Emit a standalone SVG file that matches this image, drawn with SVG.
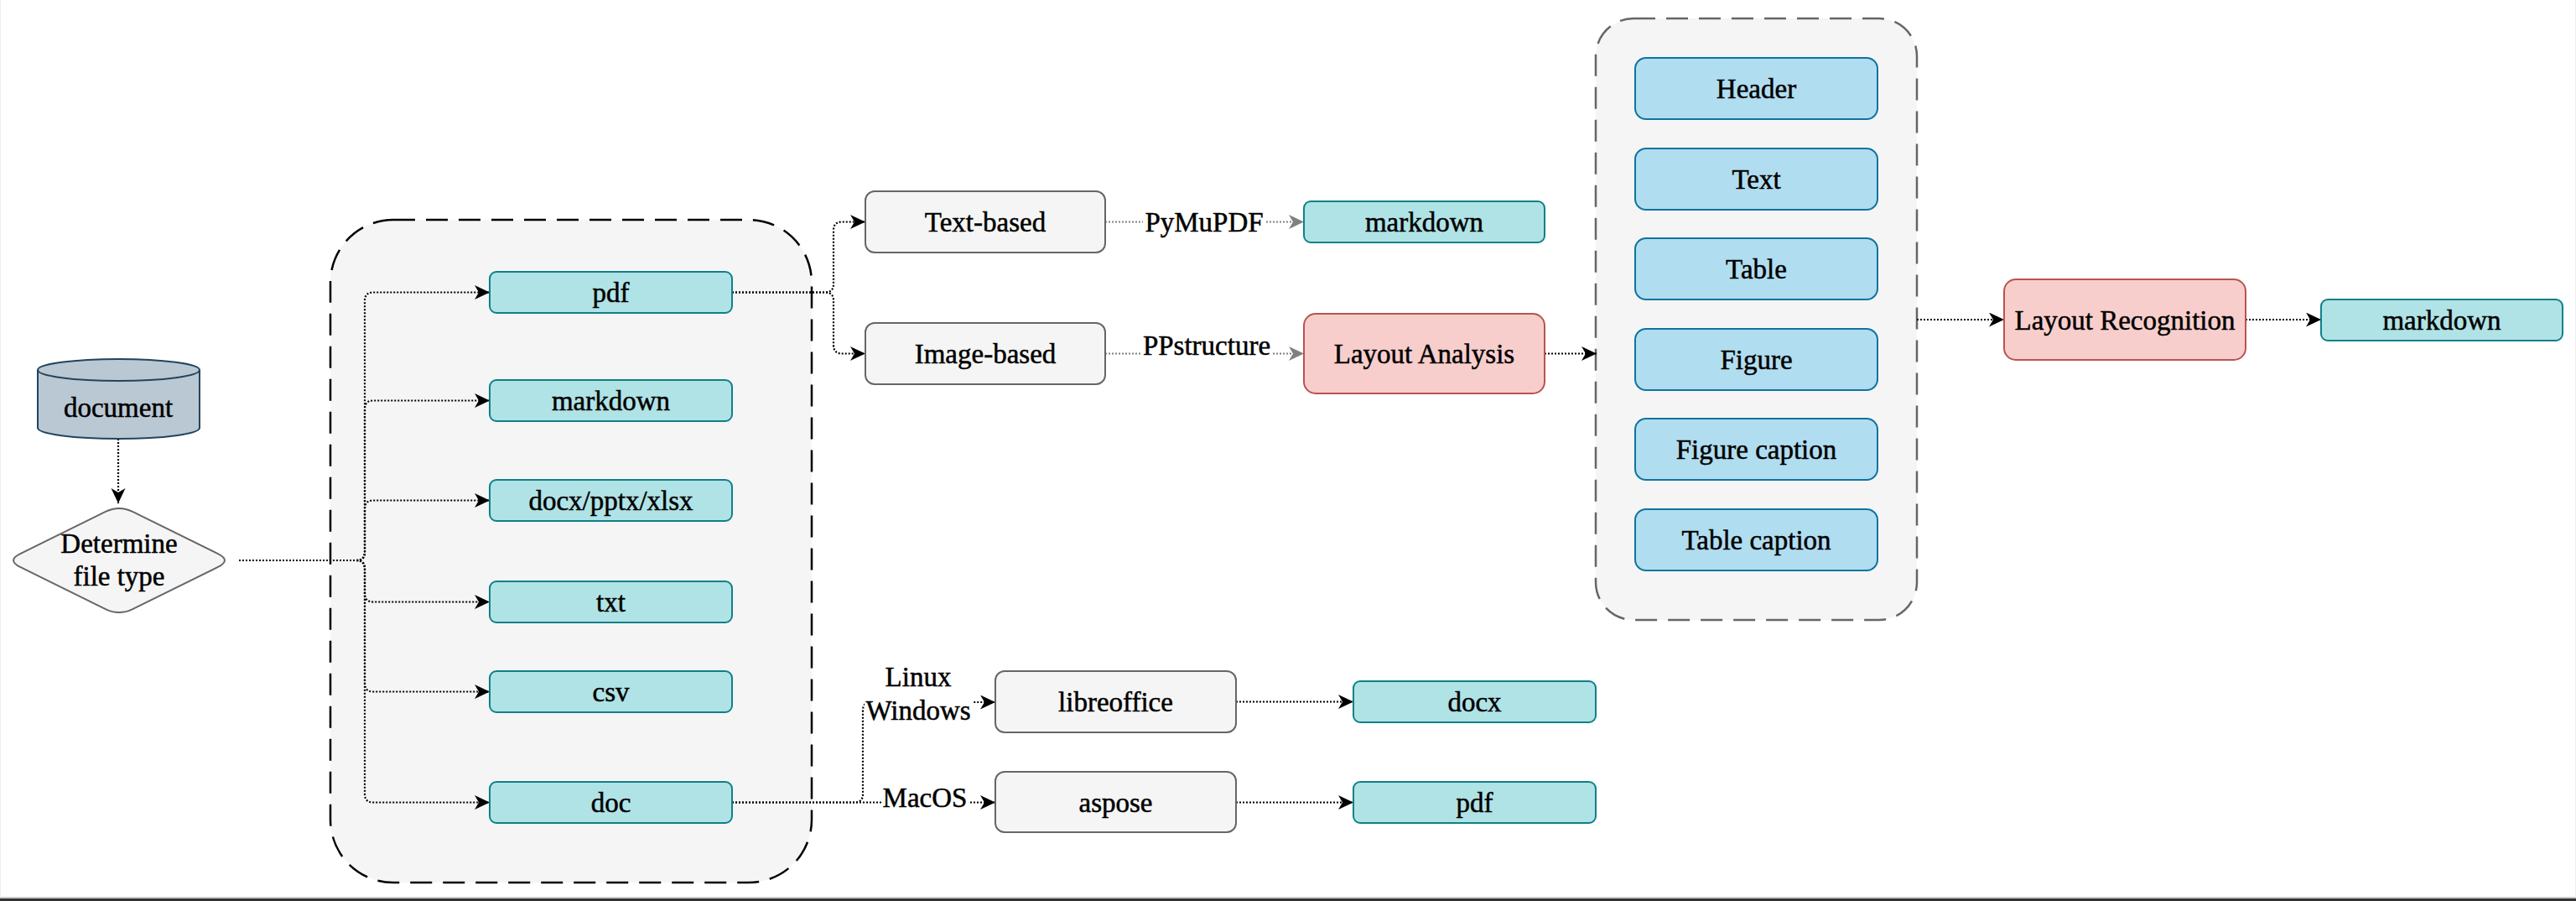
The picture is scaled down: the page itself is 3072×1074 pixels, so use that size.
<svg xmlns="http://www.w3.org/2000/svg" width="3072" height="1074" viewBox="0 0 3072 1074" font-family="'Liberation Serif', 'DejaVu Serif', serif">
<style>
  text { font-family: 'Liberation Serif', 'Times New Roman', 'DejaVu Serif', serif; font-size: 33px; fill: #000; stroke: #000; stroke-width: 0.5; text-anchor: middle; }
  .teal { fill: #b0e3e6; stroke: #0e8088; stroke-width: 2; }
  .gray { fill: #f5f5f5; stroke: #666666; stroke-width: 2; }
  .red { fill: #f8cecc; stroke: #b85450; stroke-width: 2; }
  .blue { fill: #b1ddf0; stroke: #10739e; stroke-width: 2; }
  .cont1 { fill: #f5f5f5; stroke: #000; stroke-width: 2.5; stroke-dasharray: 26 13; }
  .cont2 { fill: #f5f5f5; stroke: #666666; stroke-width: 2.5; stroke-dasharray: 26 13; }
  .edge { fill: none; stroke: #000; stroke-width: 2.2; stroke-dasharray: 2 2; }
  .edgeg { fill: none; stroke: #808080; stroke-width: 2.2; stroke-dasharray: 2 2; }
  .lbl { fill: #ffffff; }
</style>
<defs>
  <marker id="arr" markerWidth="20" markerHeight="20" refX="18" refY="8.5" orient="auto" markerUnits="userSpaceOnUse">
    <path d="M0,0 L18,8.5 L0,17 L5,8.5 Z" fill="#000"/>
  </marker>
  <marker id="arrg" markerWidth="20" markerHeight="20" refX="18" refY="8.5" orient="auto" markerUnits="userSpaceOnUse">
    <path d="M0,0 L18,8.5 L0,17 L5,8.5 Z" fill="#808080"/>
  </marker>
</defs>
<rect x="0" y="0" width="3072" height="1074" fill="#ffffff"/>
<rect x="0.5" y="-2" width="3071" height="1073" fill="none" stroke="#eeeeee" stroke-width="1"/>
<rect x="0" y="1069" width="3072" height="2" fill="#cccccc"/>
<rect x="0" y="1071" width="3072" height="3" fill="#333333"/>

<g id="container-filetypes"><rect class="cont1" x="394" y="262" width="574" height="790" rx="75" ry="75"/></g>
<g id="container-layout"><rect class="cont2" x="1903" y="22" width="383" height="717" rx="45" ry="45"/></g>

<g id="connectors">
  <path class="edge" d="M141,523 V600" marker-end="url(#arr)"/>
  <path class="edge" d="M285,668 H425 Q435,668 435,658 V358.5 Q435,348.5 445,348.5 H584" marker-end="url(#arr)"/>
  <path class="edge" d="M285,668 H425 Q435,668 435,658 V487.5 Q435,477.5 445,477.5 H584" marker-end="url(#arr)"/>
  <path class="edge" d="M285,668 H425 Q435,668 435,658 V606.5 Q435,596.5 445,596.5 H584" marker-end="url(#arr)"/>
  <path class="edge" d="M285,668 H425 Q435,668 435,678 V707.5 Q435,717.5 445,717.5 H584" marker-end="url(#arr)"/>
  <path class="edge" d="M285,668 H425 Q435,668 435,678 V814.5 Q435,824.5 445,824.5 H584" marker-end="url(#arr)"/>
  <path class="edge" d="M285,668 H425 Q435,668 435,678 V946.5 Q435,956.5 445,956.5 H584" marker-end="url(#arr)"/>
  <path class="edge" d="M873,348.5 H984 Q994,348.5 994,338.5 V274.5 Q994,264.5 1004,264.5 H1032" marker-end="url(#arr)"/>
  <path class="edge" d="M873,348.5 H984 Q994,348.5 994,358.5 V411.5 Q994,421.5 1004,421.5 H1032" marker-end="url(#arr)"/>
  <path class="edgeg" d="M1318,264.5 H1555" marker-end="url(#arrg)"/>
  <path class="edgeg" d="M1318,421.5 H1555" marker-end="url(#arrg)"/>
  <path class="edge" d="M1842,421.5 H1904" marker-end="url(#arr)"/>
  <path class="edge" d="M2286,381 H2390" marker-end="url(#arr)"/>
  <path class="edge" d="M2678,381 H2768" marker-end="url(#arr)"/>
  <path class="edge" d="M873,956.5 H1019 Q1029,956.5 1029,946.5 V847 Q1029,837 1039,837 H1187" marker-end="url(#arr)"/>
  <path class="edge" d="M873,956.5 H1187" marker-end="url(#arr)"/>
  <path class="edge" d="M1474,836.5 H1614" marker-end="url(#arr)"/>
  <path class="edge" d="M1474,956.5 H1614" marker-end="url(#arr)"/>
  <g id="edge-labels">
    <rect class="lbl" x="1363" y="244" width="146" height="46"/>
    <text x="1436" y="276">PyMuPDF</text>
    <rect class="lbl" x="1360" y="396" width="158" height="35"/>
    <text x="1439" y="423">PPstructure</text>
    <rect class="lbl" x="1031" y="790" width="129" height="76"/>
    <text x="1095" y="818">Linux</text>
    <text x="1095" y="858">Windows</text>
    <rect class="lbl" x="1051" y="935" width="104" height="34"/>
    <text x="1103" y="962">MacOS</text>
  </g>
</g>

<g id="document">
  <path d="M45,441 A96.5,13 0 0 1 238,441 V510 A96.5,13 0 0 1 45,510 Z" fill="#bac8d3" stroke="#23445d" stroke-width="2"/>
  <path d="M45,441 A96.5,13 0 0 0 238,441" fill="none" stroke="#23445d" stroke-width="2"/>
  <text x="141" y="497">document</text>
</g>
<g id="determine">
  <path d="M24.1,660.1 L125.9,609.9 Q142,602 158.1,609.9 L259.9,660.1 Q276,668 259.9,675.9 L158.1,726.1 Q142,734 125.9,726.1 L24.1,675.9 Q8,668 24.1,660.1 Z" fill="#f5f5f5" stroke="#666666" stroke-width="2"/>
  <text x="142" y="659">Determine</text>
  <text x="142" y="698">file type</text>
</g>

<g id="pdf"><rect class="teal" x="584" y="324" width="289" height="49" rx="8"/><text x="728.5" y="360">pdf</text></g>
<g id="markdown-in"><rect class="teal" x="584" y="453" width="289" height="49" rx="8"/><text x="728.5" y="489">markdown</text></g>
<g id="docx-pptx-xlsx"><rect class="teal" x="584" y="572" width="289" height="49" rx="8"/><text x="728.5" y="608">docx/pptx/xlsx</text></g>
<g id="txt"><rect class="teal" x="584" y="693" width="289" height="49" rx="8"/><text x="728.5" y="729">txt</text></g>
<g id="csv"><rect class="teal" x="584" y="800" width="289" height="49" rx="8"/><text x="728.5" y="836">csv</text></g>
<g id="doc"><rect class="teal" x="584" y="932" width="289" height="49" rx="8"/><text x="728.5" y="968">doc</text></g>

<g id="text-based"><rect class="gray" x="1032" y="228" width="286" height="73" rx="11"/><text x="1175" y="276">Text-based</text></g>
<g id="image-based"><rect class="gray" x="1032" y="385" width="286" height="73" rx="11"/><text x="1175" y="433">Image-based</text></g>
<g id="markdown-text"><rect class="teal" x="1555" y="240" width="287" height="49" rx="8"/><text x="1698.5" y="276">markdown</text></g>
<g id="layout-analysis"><rect class="red" x="1555" y="374" width="287" height="95" rx="14"/><text x="1698.5" y="433">Layout Analysis</text></g>

<g id="header"><rect class="blue" x="1950" y="69" width="289" height="73" rx="13"/><text x="2094.5" y="117">Header</text></g>
<g id="text"><rect class="blue" x="1950" y="177" width="289" height="73" rx="13"/><text x="2094.5" y="225">Text</text></g>
<g id="table"><rect class="blue" x="1950" y="284" width="289" height="73" rx="13"/><text x="2094.5" y="332">Table</text></g>
<g id="figure"><rect class="blue" x="1950" y="392" width="289" height="73" rx="13"/><text x="2094.5" y="440">Figure</text></g>
<g id="figure-caption"><rect class="blue" x="1950" y="499" width="289" height="73" rx="13"/><text x="2094.5" y="547">Figure caption</text></g>
<g id="table-caption"><rect class="blue" x="1950" y="607" width="289" height="73" rx="13"/><text x="2094.5" y="655">Table caption</text></g>

<g id="layout-recognition"><rect class="red" x="2390" y="333" width="288" height="96" rx="14"/><text x="2534" y="392.5">Layout Recognition</text></g>
<g id="markdown-out"><rect class="teal" x="2768" y="357" width="288" height="49" rx="8"/><text x="2912" y="393">markdown</text></g>

<g id="libreoffice"><rect class="gray" x="1187" y="800" width="287" height="73" rx="11"/><text x="1330.5" y="848">libreoffice</text></g>
<g id="aspose"><rect class="gray" x="1187" y="920" width="287" height="72" rx="11"/><text x="1330.5" y="967.5">aspose</text></g>
<g id="docx"><rect class="teal" x="1614" y="812" width="289" height="49" rx="8"/><text x="1758.5" y="848">docx</text></g>
<g id="pdf-out"><rect class="teal" x="1614" y="932" width="289" height="49" rx="8"/><text x="1758.5" y="968">pdf</text></g>
</svg>
